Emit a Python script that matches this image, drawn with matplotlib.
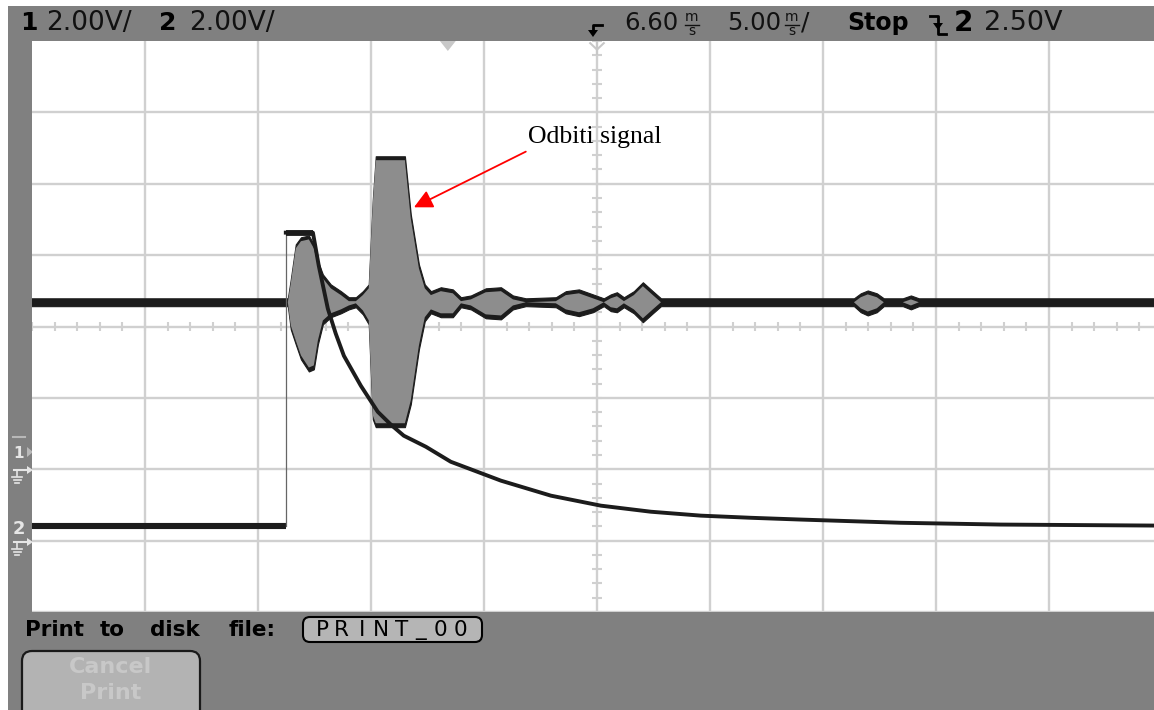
import matplotlib
matplotlib.use('Agg')
import matplotlib.pyplot as plt
from matplotlib.patches import Rectangle, FancyBboxPatch, Polygon
import numpy as np

# scope settings (header of the screen)
t_delay = 6.60      # [ms] time at screen centre
t_div = 5.0         # [ms/div]
v_div = 2.0         # [V/div] both channels
ch1_gnd = -2.0      # [div] ground marker channel 1
ch2_gnd = -3.0      # [div] ground marker channel 2
trig_level = 2.50   # [V] on channel 2

# channel 1 - received signal, envelope
ch1_t = [-18.5, -7.08, -6.95, -6.73, -6.50, -6.15, -5.93, -5.75, -5.53, -5.18,
         -4.73, -4.38, -4.07, -3.76, -3.50, -3.32, -3.19, -1.90, -1.64, -1.28,
         -1.02, -0.75, -0.31, 0.22, 0.58, 1.02, 1.68, 2.35, 2.88, 3.45,
         4.78, 5.22, 5.80, 6.42, 6.90, 7.21, 7.48, 7.79, 8.23, 8.63,
         9.07, 9.43, 17.97, 18.27, 18.58, 18.98, 19.29, 20.13, 20.49, 20.84, 31.7]
ch1_top = [4.79, 4.79, 5.32, 6.30, 6.50, 6.55, 6.30, 5.83, 5.46, 5.18,
           4.99, 4.82, 4.82, 4.99, 5.18, 7.56, 8.77, 8.77, 7.14, 5.74,
           5.18, 4.99, 5.10, 5.04, 4.82, 4.87, 5.07, 5.10, 4.87, 4.79,
           4.82, 4.99, 5.04, 4.90, 4.79, 4.90, 4.96, 4.82, 4.99, 5.24,
           4.99, 4.79, 4.79, 4.93, 5.01, 4.93, 4.79, 4.79, 4.87, 4.79, 4.79]
ch1_bot = [4.57, 4.57, 3.92, 3.50, 3.08, 2.74, 2.80, 3.50, 4.06, 4.26,
           4.37, 4.48, 4.54, 4.34, 4.06, 1.40, 1.18, 1.18, 1.82, 3.36,
           4.15, 4.37, 4.26, 4.26, 4.54, 4.48, 4.23, 4.20, 4.48, 4.57,
           4.54, 4.37, 4.29, 4.40, 4.57, 4.43, 4.40, 4.54, 4.37, 4.12,
           4.37, 4.57, 4.57, 4.40, 4.31, 4.40, 4.57, 4.57, 4.48, 4.57, 4.57]

# channel 2 - excitation pulse
ch2_base = 0.42     # [V] before the step
ch2_t_edge = -7.17  # [ms] rising edge
ch2_t = [-7.17, -5.97, -5.71, -5.31, -4.96, -4.60, -3.85, -3.10, -2.52, -1.95,
         -0.97, 0.13, 2.35, 4.56, 6.77, 8.98, 11.20, 13.41, 15.62, 20.05, 24.47, 31.7]
ch2_v = [8.63, 8.63, 7.70, 6.50, 5.80, 5.18, 4.34, 3.61, 3.25, 2.94,
         2.63, 2.21, 1.68, 1.26, 0.98, 0.81, 0.70, 0.64, 0.59, 0.50, 0.45, 0.42]

W, H = 1154, 710
gray = '#808080'
gridc = '#d0d0d0'
dark = '#1c1c1c'
txt = '#111111'

fig = plt.figure(figsize=(W/100, H/100), dpi=100, facecolor='white')

# background in pixel coords
bg = fig.add_axes([0, 0, 1, 1], zorder=0)
bg.set_xlim(0, W)
bg.set_ylim(H, 0)
bg.axis('off')
bg.add_patch(Rectangle((8, 6), W-8, H-6, color=gray, lw=0))

# screen area
x0, x1, y0, y1 = 32, 1162, 41, 612
ax = fig.add_axes([x0/W, 1-y1/H, (x1-x0)/W, (y1-y0)/H], zorder=1, facecolor='white')
tl, tr = t_delay-5*t_div, t_delay+5*t_div
ax.set_xlim(tl, tr)
ax.set_ylim(-4, 4)
ax.set_xticks([])
ax.set_yticks([])
for s in ax.spines.values():
    s.set_visible(False)

for k in range(-4, 5):
    ax.axvline(t_delay+k*t_div, color=gridc, lw=1.7, zorder=0)
for j in range(-4, 4):
    ax.axhline(j, color=gridc, lw=1.7, zorder=0)
# minor ticks on the centre cross
ax.vlines(t_delay+np.arange(-25, 26)*t_div/5, -0.07, 0.07, color=gridc, lw=1.5, zorder=0)
ax.hlines(np.arange(-20, 21)*0.2, t_delay-0.22, t_delay+0.22, color=gridc, lw=1.5, zorder=0)

# trigger point and delay markers at the top
ax.add_patch(Polygon([[-0.35, 4], [0.35, 4], [0, 3.86]], closed=True, color='#c8c8c8', lw=0))
ax.plot([t_delay-0.3, t_delay, t_delay+0.3], [3.97, 3.88, 3.97], color='#c8c8c8', lw=1.5)
ax.plot([t_delay, t_delay], [4, 3.82], color='#c8c8c8', lw=1.5)

# channel 1
t1 = np.array(ch1_t)
up = ch1_gnd + np.array(ch1_top)/v_div
lo = ch1_gnd + np.array(ch1_bot)/v_div
ax.fill_between(t1, up, lo, facecolor=dark, edgecolor=dark, lw=0.8, zorder=3)
d = 0.055
ax.fill_between(t1, up-d, np.minimum(lo+d, up-d), facecolor='#8d8d8d', lw=0, zorder=4)

# channel 2
g2 = lambda v: ch2_gnd + np.array(v)/v_div
ax.plot([tl, ch2_t_edge], g2([ch2_base, ch2_base]), color=dark, lw=4.4,
        solid_capstyle='butt', zorder=5)
ax.plot([ch2_t_edge, ch2_t_edge], g2([ch2_base, ch2_v[0]]), color='#666666', lw=0.9, zorder=5)
ax.plot(ch2_t[:2], g2(ch2_v[:2]), color=dark, lw=4.2, solid_capstyle='butt', zorder=6)
ax.plot(ch2_t, g2(ch2_v), color=dark, lw=2.8, zorder=6)

# annotation
ax.annotate('', xy=(-1.50, 1.67), xytext=(3.45, 2.45),
            arrowprops=dict(arrowstyle='-|>', color='red', lw=1.3, mutation_scale=28,
                            shrinkA=0, shrinkB=0), zorder=8)
ax.text(3.54, 2.65, 'Odbiti signal', family='Liberation Serif', fontsize=18.5,
        va='center', ha='left', color='black', zorder=8)

# header bar
fs = 17
yc = 23
bg.text(20, yc, '1', fontsize=fs+1, fontweight='bold', va='center', ha='left')
bg.text(46, yc, '2.00V/', fontsize=fs+2, va='center', ha='left', color=txt)
bg.text(159, yc, '2', fontsize=fs+1, fontweight='bold', va='center', ha='left')
bg.text(189, yc, '2.00V/', fontsize=fs+2, va='center', ha='left', color=txt)
# delay symbol
bg.plot([602, 593, 593], [25, 25, 31], color='black', lw=2)
bg.add_patch(Polygon([[588, 30], [598, 30], [593, 37]], closed=True, color='black', lw=0))
bg.text(624, yc, '6.60', fontsize=fs+0.5, va='center', ha='left', color=txt)
for xs in [692, 792]:
    bg.text(xs, 17, 'm', fontsize=10, va='center', ha='center', color=txt)
    bg.plot([xs-7, xs+7], [24.5, 24.5], color=txt, lw=1)
    bg.text(xs, 31, 's', fontsize=10, va='center', ha='center', color=txt)
bg.text(727, yc, '5.00', fontsize=fs+0.5, va='center', ha='left', color=txt)
bg.text(801, yc, '/', fontsize=fs+1, va='center', ha='left', color=txt)
bg.text(847, yc, 'Stop', fontsize=fs, fontweight='bold', va='center', ha='left')
# falling edge trigger symbol
bg.plot([930, 938, 938, 946], [16, 16, 34, 34], color='black', lw=2)
bg.add_patch(Polygon([[933, 23], [943, 23], [938, 30]], closed=True, color='black', lw=0))
bg.text(954, yc, '2', fontsize=fs+3, fontweight='bold', va='center', ha='left')
bg.text(984, yc, '%.2fV' % trig_level, fontsize=fs+2.5, va='center', ha='left', color=txt)

# channel markers on the left strip
mk = '#e6e6e6'
bg.plot([13, 25], [437, 437], color='#b8b8b8', lw=1.5)
bg.add_patch(Polygon([[27, 447], [33, 452], [27, 457]], closed=True, color='#b8b8b8', lw=0))
bg.text(19, 453, '1', fontsize=11, color=mk, va='center', ha='center', fontweight='bold')
bg.text(19, 529, '2', fontsize=13, color=mk, va='center', ha='center', fontweight='bold')
for gy in [470, 542]:
    bg.plot([14, 30], [gy, gy], color=mk, lw=1.5)
    bg.add_patch(Polygon([[27, gy-4], [33, gy], [27, gy+4]], closed=True, color=mk, lw=0))
    bg.plot([17, 17], [gy, gy+6], color=mk, lw=1.2)
    for i, hw in enumerate([5, 3.5, 2]):
        bg.plot([17-hw, 17+hw], [gy+7+i*3, gy+7+i*3], color=mk, lw=1.2)

# bottom softkey area
for word, xw in [('Print', 25), ('to', 100), ('disk', 150), ('file:', 229)]:
    bg.text(xw, 630, word, fontsize=15.5, fontweight='bold', va='center', ha='left', color='black')
bg.add_patch(FancyBboxPatch((303, 617), 179, 25, boxstyle='round,pad=0,rounding_size=7',
                            fc='#b5b5b5', ec='black', lw=1.5))
for i, ch in enumerate('PRINT_00'):
    bg.text(322 + i*19.8, 630, ch, fontsize=15.5, va='center', ha='center', color='black')
bg.add_patch(FancyBboxPatch((22, 651), 178, 75, boxstyle='round,pad=0,rounding_size=10',
                            fc='#b3b3b3', ec='#1a1a1a', lw=1.6))
bg.text(111, 667, 'Cancel', fontsize=16, fontweight='bold', va='center', ha='center', color='#c8c8c8')
bg.text(111, 693, 'Print', fontsize=16, fontweight='bold', va='center', ha='center', color='#c8c8c8')

fig.savefig('out.png', dpi=100)
